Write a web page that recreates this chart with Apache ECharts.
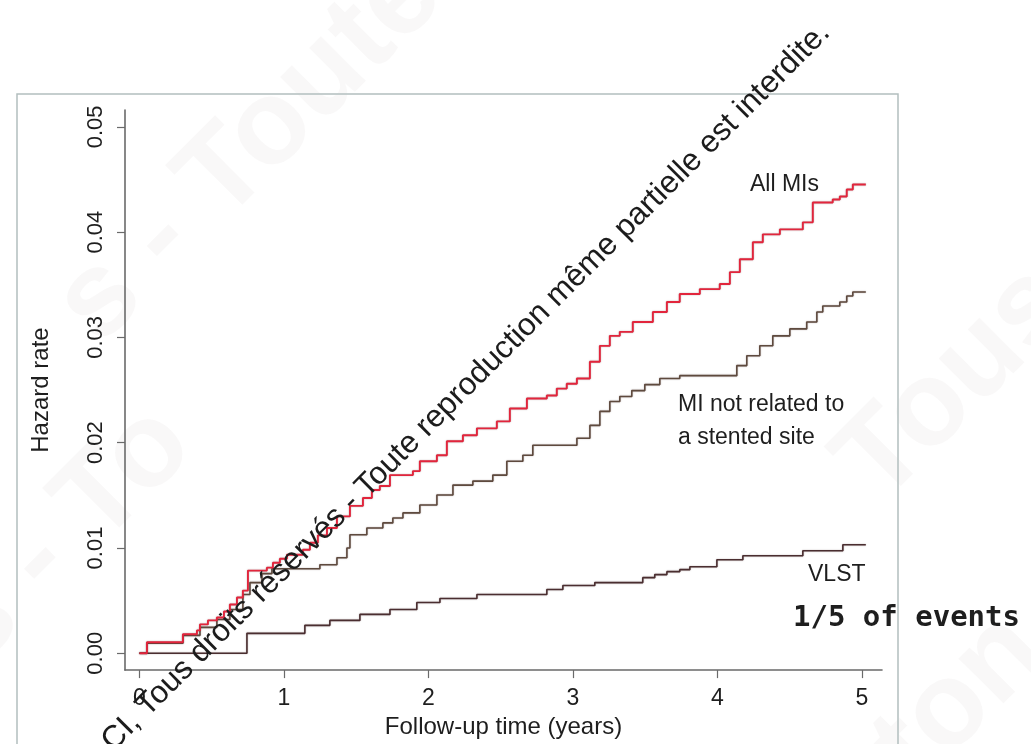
<!DOCTYPE html>
<html>
<head>
<meta charset="utf-8">
<title>Hazard rate – follow-up</title>
<script src="https://cdn.jsdelivr.net/npm/echarts@6/dist/echarts.min.js"></script>
<style>
  html, body { margin: 0; padding: 0; background: #ffffff; }
  #chart { width: 1031px; height: 744px; }
</style>
</head>
<body>
<div id="chart"></div>
<script>
// Cumulative hazard step curves: [follow-up time (years), hazard rate]
const allMIs = [
  [0, 0], [0.052, 0.00104], [0.301, 0.0018], [0.398, 0.00217], [0.419, 0.00274],
  [0.474, 0.00312], [0.536, 0.0034], [0.585, 0.00397], [0.626, 0.00463], [0.675, 0.00529],
  [0.716, 0.00595], [0.751, 0.00785], [0.882, 0.00813], [0.924, 0.0086], [0.972, 0.00898],
  [1.021, 0.00936], [1.131, 0.00983], [1.180, 0.0105], [1.235, 0.0112], [1.298, 0.0119],
  [1.367, 0.0130], [1.457, 0.0140], [1.547, 0.01474], [1.609, 0.0155], [1.664, 0.01588],
  [1.734, 0.01692], [1.893, 0.0173], [1.941, 0.01824], [2.059, 0.01881], [2.128, 0.02013],
  [2.239, 0.0207], [2.336, 0.02136], [2.474, 0.02202], [2.564, 0.02325], [2.682, 0.0242],
  [2.820, 0.02448], [2.889, 0.02514], [2.958, 0.0256], [3.028, 0.02609], [3.118, 0.02769],
  [3.187, 0.0292], [3.256, 0.03015], [3.325, 0.03053], [3.415, 0.03147], [3.554, 0.03242],
  [3.651, 0.03336], [3.740, 0.03412], [3.879, 0.03459], [4.017, 0.03507], [4.087, 0.0362],
  [4.156, 0.03743], [4.246, 0.03904], [4.315, 0.03979], [4.433, 0.04026], [4.592, 0.04093],
  [4.661, 0.04282], [4.799, 0.0431], [4.848, 0.04338], [4.896, 0.04405], [4.938, 0.04452],
  [5.028, 0.04452]
];

const miNotStented = [
  [0, 0], [0.052, 0.00095], [0.301, 0.0017], [0.419, 0.00246], [0.536, 0.00321],
  [0.626, 0.00416], [0.716, 0.00558], [0.765, 0.00671], [0.848, 0.00756], [0.917, 0.00803],
  [1.249, 0.00841], [1.367, 0.00907], [1.436, 0.0100], [1.457, 0.01125], [1.574, 0.0119],
  [1.685, 0.01238], [1.754, 0.01285], [1.824, 0.01333], [1.941, 0.01408], [2.059, 0.01503],
  [2.170, 0.01597], [2.308, 0.01635], [2.446, 0.01692], [2.543, 0.01824], [2.654, 0.01881],
  [2.723, 0.01975], [3.028, 0.02042], [3.118, 0.02164], [3.187, 0.02297], [3.256, 0.02391],
  [3.325, 0.02439], [3.408, 0.02495], [3.498, 0.02552], [3.602, 0.02609], [3.740, 0.02637],
  [4.135, 0.02732], [4.204, 0.02826], [4.294, 0.02921], [4.384, 0.03015], [4.502, 0.03081],
  [4.619, 0.03147], [4.689, 0.03242], [4.730, 0.03299], [4.848, 0.03336], [4.896, 0.03393],
  [4.938, 0.03431], [5.028, 0.03431]
];

const vlst = [
  [0, 0], [0.744, 0.00189], [1.145, 0.00265], [1.318, 0.00312], [1.526, 0.00369],
  [1.734, 0.00416], [1.920, 0.00482], [2.080, 0.0052], [2.336, 0.00558], [2.820, 0.00605],
  [2.931, 0.00643], [3.152, 0.00671], [3.484, 0.00718], [3.567, 0.00747], [3.651, 0.00775],
  [3.740, 0.00794], [3.810, 0.00822], [3.997, 0.00888], [4.177, 0.00926], [4.592, 0.00974],
  [4.869, 0.0103], [5.028, 0.0103]
];

const xTicks = [0, 1, 2, 3, 4, 5];
const yTicks = [0, 0.01, 0.02, 0.03, 0.04, 0.05];

const seriesNames = ['All MIs', 'MI not related to\na stented site', 'VLST'];
const noteText = '1/5 of events';
const xTitle = 'Follow-up time (years)';
const yTitle = 'Hazard rate';
const copyrightLine = 'CI, Tous droits réservés - Toute reproduction même partielle est interdite.';

const FONT = '"Liberation Sans", Arial, Helvetica, sans-serif';
const axisColor = '#6a6a6a';
const textColor = '#1e1e1e';

const chart = echarts.init(document.getElementById('chart'), null, { renderer: 'canvas' });

function stepLine(name, data, color, width, z) {
  return {
    name: name,
    type: 'line',
    step: 'end',
    data: data,
    symbol: 'none',
    z: z,
    silent: true,
    lineStyle: { color: color, width: width, shadowColor: 'rgba(40,0,0,0.35)', shadowBlur: 1.5 }
  };
}

// large faint background lettering
function faint(text, x, y, size) {
  return {
    type: 'text', x: x, y: y, rotation: Math.PI / 4, z: 0, silent: true,
    style: {
      text: text, align: 'center', verticalAlign: 'middle',
      font: 'bold ' + size + 'px ' + FONT, fill: 'rgba(170,150,150,0.07)'
    }
  };
}

function note(text, x, y, font) {
  return {
    type: 'text', x: x, y: y, z: 50, silent: true,
    style: { text: text, align: 'left', verticalAlign: 'middle', font: font, fill: textColor, lineHeight: 33 }
  };
}

const option = {
  backgroundColor: '#ffffff',
  animation: false,
  grid: { left: 125, right: 149, top: 110, bottom: 71, containLabel: false },
  xAxis: {
    type: 'value',
    min: -0.1,
    max: 5.14,
    name: xTitle,
    nameLocation: 'middle',
    nameGap: 44,
    nameTextStyle: { fontFamily: FONT, fontSize: 24, color: textColor },
    axisLine: { show: true, onZero: false, lineStyle: { color: axisColor, width: 1.6 } },
    axisTick: { show: true, customValues: xTicks, length: 8, lineStyle: { color: axisColor, width: 1.2 } },
    axisLabel: {
      customValues: xTicks, margin: 17, fontFamily: FONT, fontSize: 23, color: textColor,
      formatter: v => String(v)
    },
    splitLine: { show: false }
  },
  yAxis: {
    type: 'value',
    min: -0.0016,
    max: 0.0516,
    name: yTitle,
    nameLocation: 'middle',
    nameGap: 72,
    nameTextStyle: { fontFamily: FONT, fontSize: 24, color: textColor },
    axisLine: { show: true, onZero: false, lineStyle: { color: axisColor, width: 1.6 } },
    axisTick: { show: true, customValues: yTicks, length: 8, lineStyle: { color: axisColor, width: 1.2 } },
    axisLabel: {
      customValues: yTicks, rotate: 90, margin: 18, fontFamily: FONT, fontSize: 22, color: textColor,
      formatter: v => v.toFixed(2)
    },
    splitLine: { show: false }
  },
  series: [
    stepLine(seriesNames[2], vlst, '#4a2e30', 1.6, 3),
    stepLine(seriesNames[1], miNotStented, '#5e4a3e', 1.6, 4),
    stepLine(seriesNames[0], allMIs, '#e2253c', 1.9, 5)
  ],
  graphic: [
    faint('s - Toute', 250, 150, 120),
    faint('Tous dr', 1010, 330, 120),
    faint('és - To', 40, 560, 120),
    faint('ton', 960, 700, 120),
    {
      type: 'rect', z: 1, silent: true,
      shape: { x: 17, y: 94, width: 881, height: 700 },
      style: { fill: 'none', stroke: '#b3bfbf', lineWidth: 1.5 }
    },
    note(seriesNames[0], 750, 185, '23px ' + FONT),
    note(seriesNames[1], 678, 421, '23px ' + FONT),
    note(seriesNames[2], 808, 575, '23px ' + FONT),
    note(noteText, 793, 618, 'bold 29px "Comic Sans MS", "DejaVu Sans Mono", monospace'),
    {
      type: 'text', x: 466, y: 387, rotation: Math.PI / 4, z: 60, silent: true,
      style: {
        text: copyrightLine, align: 'center', verticalAlign: 'middle',
        font: '31.5px ' + FONT, fill: '#1c1c1c'
      }
    }
  ]
};

chart.setOption(option);
</script>
</body>
</html>
